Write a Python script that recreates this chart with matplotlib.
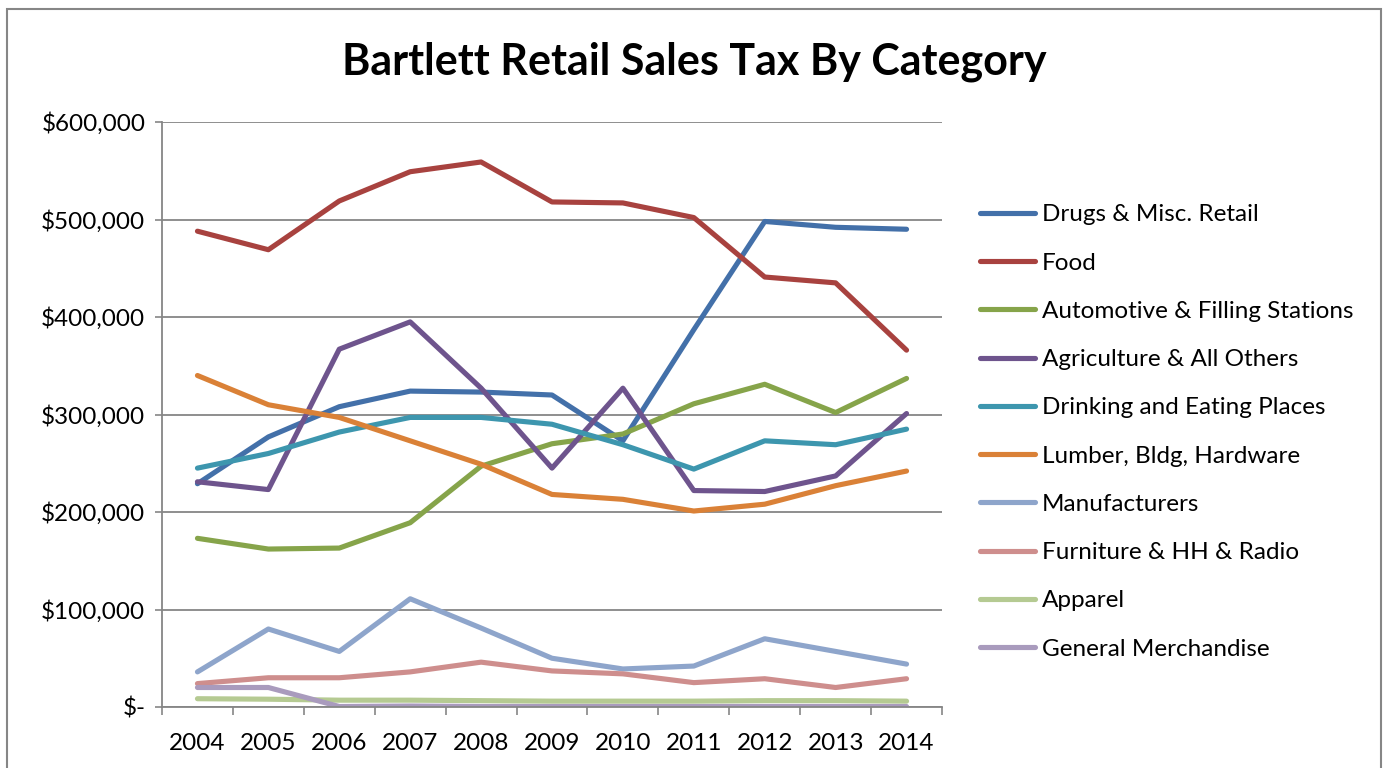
import matplotlib
matplotlib.use("Agg")
import matplotlib.pyplot as plt
from matplotlib.patches import Rectangle
from matplotlib.ticker import FuncFormatter, FixedLocator

plt.rcParams['font.family'] = ['Lato', 'DejaVu Sans']

years = [2004, 2005, 2006, 2007, 2008, 2009, 2010, 2011, 2012, 2013, 2014]

drugs = [229000, 277000, 308000, 324000, 323000, 320000, 273000, 387000, 498000, 492000, 490000]
food = [488000, 469000, 519000, 549000, 559000, 518000, 517000, 502000, 441000, 435000, 366000]
automotive = [173000, 162000, 163000, 189000, 247000, 270000, 280000, 311000, 331000, 302000, 337000]
agriculture = [231000, 223000, 367000, 395000, 327000, 245000, 327000, 222000, 221000, 237000, 301000]
drinking = [245000, 260000, 282000, 297000, 297000, 290000, 269000, 244000, 273000, 269000, 285000]
lumber = [340000, 310000, 297000, 273000, 249000, 218000, 213000, 201000, 208000, 227000, 242000]
manufacturers = [36000, 80000, 57000, 111000, 81000, 50000, 39000, 42000, 70000, 57000, 44000]
furniture = [24000, 30000, 30000, 36000, 46000, 37000, 34000, 25000, 29000, 20000, 29000]
apparel = [8500, 8000, 7000, 7000, 6500, 6000, 6000, 6000, 6500, 6500, 6000]
general = [20000, 20000, 500, 1000, 500, 500, 500, 500, 500, 500, 500]

series = [
    ("Drugs & Misc. Retail", drugs, "#4370A9"),
    ("Food", food, "#A8423F"),
    ("Automotive & Filling Stations", automotive, "#86A44A"),
    ("Agriculture & All Others", agriculture, "#6E548D"),
    ("Drinking and Eating Places", drinking, "#3D96AE"),
    ("Lumber, Bldg, Hardware", lumber, "#DA8137"),
    ("Manufacturers", manufacturers, "#8EA5CB"),
    ("Furniture & HH & Radio", furniture, "#CE8E8D"),
    ("Apparel", apparel, "#B5CA92"),
    ("General Merchandise", general, "#A99BBD"),
]

grey = "#868686"
fs = 17.5

fig = plt.figure(figsize=(13.88, 7.68), dpi=100)
ax = fig.add_axes([162 / 1388, 1 - 707 / 768, 780 / 1388, 585 / 768])

x = list(range(len(years)))
for name, vals, color in series:
    ax.plot(x, vals, color=color, linewidth=3.7, label=name, solid_joinstyle='round',
            solid_capstyle='round')

ax.set_xlim(-0.5, len(years) - 0.5)
ax.set_ylim(0, 600000)

# category labels at centres, tick marks between categories
ax.xaxis.set_major_locator(FixedLocator([i - 0.5 for i in range(len(years) + 1)]))
ax.xaxis.set_minor_locator(FixedLocator(x))
ax.set_xticklabels([])
ax.set_xticklabels([str(y) for y in years], minor=True)
ax.tick_params(axis='x', which='major', direction='out', length=6, width=1.2, color=grey)
ax.tick_params(axis='x', which='minor', length=0, pad=19, labelsize=fs)

ax.set_yticks(range(0, 600001, 100000))
ax.yaxis.set_major_formatter(FuncFormatter(lambda v, p: "$-" if v == 0 else "${:,.0f}".format(v)))
ax.tick_params(axis='y', direction='out', length=5, width=1.2, color=grey, pad=7, labelsize=fs)

ax.grid(axis='y', color=grey, linewidth=1.3)
ax.set_axisbelow(True)
for side in ['top', 'right']:
    ax.spines[side].set_visible(False)
for side in ['left', 'bottom']:
    ax.spines[side].set_color(grey)
    ax.spines[side].set_linewidth(1.3)

fig.text(0.5, 1 - 62 / 768, "Bartlett Retail Sales Tax By Category", ha='center', va='center',
         fontsize=31, fontweight='bold')

fig.legend(loc='center left', bbox_to_anchor=(980 / 1388, 1 - 432 / 768), frameon=False,
           fontsize=fs, handlelength=2.25, handletextpad=0.3, labelspacing=1.12,
           borderpad=0, borderaxespad=0)

# outer chart frame
fig.patches.append(Rectangle((7 / 1388, -0.05), 1374 / 1388, 1.05 - 9 / 768,
                             transform=fig.transFigure, fill=False, edgecolor=grey,
                             linewidth=1.5))

fig.savefig("out.png", dpi=100)
